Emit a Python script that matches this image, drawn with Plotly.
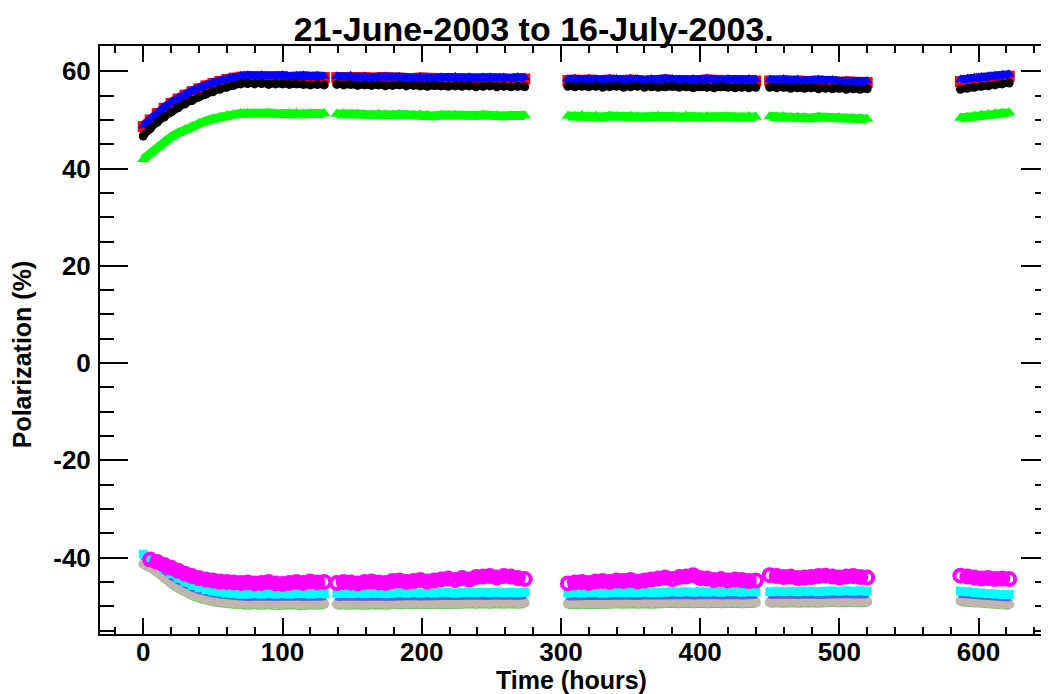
import plotly.graph_objects as go

# ---- time grid per observing segment (hours) ----
T1 = [0, 5, 10, 15, 20, 25, 30, 35, 40, 45,
      50, 55, 60, 65, 70, 75, 80, 85, 90, 95,
      100, 105, 110, 115, 120, 125, 130]
T2 = [139, 144, 149, 154, 159, 164, 169, 174, 179, 184,
      189, 194, 199, 204, 209, 214, 219, 224, 229, 234,
      239, 244, 249, 254, 259, 264, 269, 274]
T3 = [305, 310, 315, 320, 325, 330, 335, 340, 345, 350,
      355, 360, 365, 370, 375, 380, 385, 390, 395, 400,
      405, 410, 415, 420, 425, 430, 435, 440]
T4 = [450, 455, 460, 465, 470, 475, 480, 485, 490, 495,
      500, 505, 510, 515, 520]
T5 = [587, 592, 597, 602, 607, 612, 617, 622]

# ---- upper (positive) polarization series ----
RED = [
    [48.6, 50.0, 51.3, 52.4, 53.4, 54.3, 55.1, 55.8, 56.4, 57.0,
     57.5, 57.9, 58.3, 58.6, 58.8, 58.9, 58.8, 58.9, 58.8, 58.8,
     58.9, 58.7, 58.8, 58.9, 58.7, 58.8, 58.7],
    [58.7, 58.6, 58.7, 58.6, 58.7, 58.5, 58.6, 58.7, 58.5, 58.6,
     58.5, 58.4, 58.6, 58.5, 58.3, 58.5, 58.4, 58.5, 58.4, 58.5,
     58.3, 58.4, 58.5, 58.3, 58.4, 58.3, 58.5, 58.4],
    [58.1, 58.2, 58.0, 58.2, 58.1, 58.0, 58.2, 58.1, 58.0, 58.2,
     58.1, 57.9, 58.1, 58.0, 58.2, 58.1, 58.0, 57.9, 58.1, 58.0,
     58.2, 58.0, 57.9, 58.1, 58.0, 57.9, 58.1, 58.0],
    [58.0, 57.9, 58.1, 57.9, 58.0, 57.8, 57.9, 58.0, 57.8, 57.9,
     57.7, 57.8, 57.7, 57.6, 57.7],
    [57.9, 58.1, 58.3, 58.5, 58.6, 58.8, 58.9, 59.0],
]
BLUE = [
    [48.8, 50.2, 51.5, 52.6, 53.6, 54.5, 55.3, 56.0, 56.6, 57.2,
     57.7, 58.1, 58.5, 58.8, 59.1, 59.2, 59.1, 59.2, 59.0, 59.1,
     59.2, 59.0, 59.1, 59.2, 59.0, 59.1, 59.0],
    [59.0, 58.9, 59.1, 58.9, 59.0, 58.8, 58.9, 59.0, 58.8, 58.9,
     58.8, 58.7, 58.9, 58.8, 58.6, 58.8, 58.7, 58.9, 58.7, 58.8,
     58.6, 58.7, 58.8, 58.6, 58.7, 58.6, 58.8, 58.7],
    [58.4, 58.5, 58.3, 58.5, 58.4, 58.3, 58.5, 58.4, 58.3, 58.5,
     58.4, 58.2, 58.4, 58.3, 58.5, 58.4, 58.3, 58.2, 58.4, 58.3,
     58.5, 58.3, 58.2, 58.4, 58.3, 58.2, 58.4, 58.3],
    [58.3, 58.2, 58.4, 58.2, 58.3, 58.1, 58.2, 58.3, 58.1, 58.2,
     58.0, 58.1, 58.0, 57.9, 58.0],
    [58.3, 58.5, 58.7, 58.9, 59.0, 59.1, 59.3, 59.4],
]
BLACK = [
    [46.7, 48.2, 49.5, 50.6, 51.6, 52.5, 53.3, 54.0, 54.7, 55.3,
     55.8, 56.3, 56.7, 57.1, 57.4, 57.5, 57.4, 57.5, 57.3, 57.4,
     57.4, 57.3, 57.4, 57.3, 57.2, 57.3, 57.2],
    [57.3, 57.2, 57.3, 57.1, 57.2, 57.1, 57.2, 57.0, 57.1, 57.2,
     57.0, 57.1, 57.0, 56.9, 57.1, 57.0, 56.9, 57.0, 56.9, 57.0,
     56.8, 56.9, 57.0, 56.8, 56.9, 56.8, 56.9, 56.8],
    [56.9, 56.8, 56.9, 56.8, 56.9, 56.7, 56.8, 56.9, 56.7, 56.8,
     56.9, 56.7, 56.8, 56.7, 56.8, 56.9, 56.7, 56.8, 56.6, 56.8,
     56.7, 56.6, 56.8, 56.7, 56.6, 56.7, 56.6, 56.7],
    [56.7, 56.6, 56.7, 56.5, 56.6, 56.5, 56.6, 56.4, 56.5, 56.4,
     56.5, 56.3, 56.4, 56.3, 56.4],
    [56.3, 56.5, 56.7, 56.9, 57.0, 57.2, 57.4, 57.6],
]
GREEN_UP = [
    [41.9, 43.2, 44.4, 45.5, 46.5, 47.3, 48.0, 48.7, 49.3, 49.8,
     50.2, 50.6, 50.9, 51.1, 51.3, 51.4, 51.3, 51.2, 51.4, 51.3,
     51.2, 51.3, 51.4, 51.2, 51.3, 51.2, 51.3],
    [51.2, 51.3, 51.1, 51.2, 51.1, 51.0, 51.2, 51.1, 51.0, 51.1,
     51.0, 50.9, 51.1, 51.0, 50.8, 51.0, 50.9, 51.0, 50.9, 50.8,
     50.9, 51.0, 50.8, 50.9, 50.8, 50.9, 50.8, 50.9],
    [50.8, 50.7, 50.9, 50.7, 50.8, 50.6, 50.8, 50.7, 50.6, 50.8,
     50.7, 50.6, 50.7, 50.8, 50.6, 50.7, 50.6, 50.8, 50.7, 50.6,
     50.7, 50.6, 50.5, 50.7, 50.6, 50.5, 50.7, 50.6],
    [50.7, 50.6, 50.7, 50.5, 50.6, 50.5, 50.4, 50.6, 50.5, 50.4,
     50.5, 50.3, 50.4, 50.3, 50.2],
    [50.4, 50.6, 50.8, 51.0, 51.1, 51.3, 51.4, 51.5],
]

# ---- lower (negative) polarization series ----
MAGENTA = [
    [None, -40.4, -40.9, -41.5, -42.1, -42.7, -43.3, -43.8, -44.2, -44.5,
     -44.7, -44.9, -45.0, -45.1, -45.2, -45.1, -45.3, -45.2, -45.0, -45.3,
     -45.4, -45.2, -45.0, -45.2, -44.9, -45.1, -45.0],
    [-45.2, -45.0, -45.1, -45.3, -45.0, -44.9, -45.1, -45.2, -44.8, -44.7,
     -45.0, -44.8, -44.6, -44.9, -44.7, -44.5, -44.3, -44.6, -44.2, -44.5,
     -44.0, -43.9, -43.8, -44.1, -43.8, -43.9, -44.2, -44.4],
    [-45.3, -45.1, -45.0, -45.2, -44.9, -44.8, -45.0, -44.7, -44.8, -44.6,
     -44.9, -44.7, -44.5, -44.3, -44.1, -44.4, -44.0, -43.9, -43.6, -44.2,
     -44.3, -44.6, -44.4, -44.7, -44.5, -44.6, -44.8, -44.7],
    [-43.6, -43.8, -44.0, -43.9, -44.2, -44.1, -44.0, -43.8, -43.7, -43.9,
     -44.1, -43.9, -43.8, -44.0, -44.1],
    [-43.7, -43.9, -44.1, -44.3, -44.2, -44.4, -44.3, -44.4],
]
CYAN = [
    [-39.3, -40.0, -41.0, -42.2, -43.3, -44.2, -45.0, -45.7, -46.2, -46.6,
     -46.9, -47.1, -47.3, -47.4, -47.5, -47.5, -47.4, -47.5, -47.4, -47.5,
     -47.4, -47.5, -47.4, -47.4, -47.5, -47.4, -47.4],
    [-47.4, -47.3, -47.4, -47.3, -47.4, -47.3, -47.3, -47.4, -47.3, -47.2,
     -47.3, -47.2, -47.3, -47.2, -47.3, -47.2, -47.2, -47.3, -47.2, -47.1,
     -47.2, -47.1, -47.2, -47.1, -47.2, -47.1, -47.2, -47.1],
    [-47.3, -47.2, -47.3, -47.2, -47.2, -47.3, -47.2, -47.1, -47.2, -47.1,
     -47.2, -47.1, -47.2, -47.1, -47.1, -47.0, -47.1, -47.0, -47.1, -47.0,
     -47.1, -47.0, -47.1, -47.0, -47.0, -47.1, -47.0, -47.0],
    [-47.0, -46.9, -47.0, -46.9, -47.0, -46.9, -46.9, -47.0, -46.9, -46.8,
     -46.9, -46.8, -46.9, -46.8, -46.9],
    [-46.9, -47.0, -47.2, -47.3, -47.4, -47.5, -47.6, -47.6],
]
SLATE = [
    [-40.2, -40.9, -41.9, -43.1, -44.2, -45.1, -45.9, -46.6, -47.1, -47.5,
     -47.8, -48.0, -48.2, -48.3, -48.4, -48.5, -48.4, -48.5, -48.4, -48.5,
     -48.4, -48.5, -48.4, -48.5, -48.4, -48.5, -48.4],
    [-48.5, -48.4, -48.5, -48.4, -48.5, -48.4, -48.4, -48.5, -48.4, -48.3,
     -48.4, -48.3, -48.4, -48.3, -48.4, -48.3, -48.3, -48.4, -48.3, -48.2,
     -48.3, -48.2, -48.3, -48.2, -48.3, -48.2, -48.3, -48.2],
    [-48.4, -48.3, -48.4, -48.3, -48.3, -48.4, -48.3, -48.2, -48.3, -48.2,
     -48.3, -48.2, -48.3, -48.2, -48.2, -48.1, -48.2, -48.1, -48.2, -48.1,
     -48.2, -48.1, -48.2, -48.1, -48.1, -48.2, -48.1, -48.1],
    [-48.1, -48.0, -48.1, -48.0, -48.1, -48.0, -48.0, -48.1, -48.0, -47.9,
     -48.0, -47.9, -48.0, -47.9, -48.0],
    [-47.9, -48.0, -48.2, -48.3, -48.4, -48.5, -48.6, -48.6],
]
GRAY = [
    [-41.3, -42.0, -43.0, -44.2, -45.3, -46.2, -47.0, -47.7, -48.2, -48.6,
     -48.9, -49.1, -49.3, -49.4, -49.5, -49.6, -49.5, -49.6, -49.5, -49.7,
     -49.6, -49.5, -49.6, -49.7, -49.5, -49.6, -49.5],
    [-49.6, -49.5, -49.6, -49.5, -49.6, -49.5, -49.5, -49.6, -49.5, -49.4,
     -49.5, -49.4, -49.5, -49.4, -49.5, -49.4, -49.4, -49.5, -49.4, -49.3,
     -49.4, -49.3, -49.4, -49.3, -49.4, -49.3, -49.4, -49.3],
    [-49.5, -49.4, -49.5, -49.4, -49.4, -49.5, -49.4, -49.3, -49.4, -49.3,
     -49.4, -49.3, -49.4, -49.3, -49.3, -49.2, -49.3, -49.2, -49.3, -49.2,
     -49.3, -49.2, -49.3, -49.2, -49.2, -49.3, -49.2, -49.2],
    [-49.2, -49.1, -49.2, -49.1, -49.2, -49.1, -49.1, -49.2, -49.1, -49.0,
     -49.1, -49.0, -49.1, -49.0, -49.1],
    [-48.9, -49.0, -49.2, -49.3, -49.4, -49.5, -49.6, -49.6],
]
GREEN_LOW = [
    [-42.1, -42.8, -43.8, -45.0, -46.1, -47.0, -47.8, -48.5, -49.0, -49.4,
     -49.7, -49.9, -50.1, -50.2, -50.3, -50.4, -50.3, -50.4, -50.3, -50.5,
     -50.4, -50.3, -50.4, -50.5, -50.3, -50.4, -50.3],
    [-50.4, -50.3, -50.4, -50.3, -50.4, -50.3, -50.3, -50.4, -50.3, -50.2,
     -50.3, -50.2, -50.3, -50.2, -50.3, -50.2, -50.2, -50.3, -50.2, -50.1,
     -50.2, -50.1, -50.2, -50.1, -50.2, -50.1, -50.2, -50.1],
    [-50.3, -50.2, -50.3, -50.2, -50.2, -50.3, -50.2, -50.1, -50.2, -50.1,
     -50.2, -50.1, -50.2, -50.1, -50.1, -50.0, -50.1, -50.0, -50.1, -50.0,
     -50.1, -50.0, -50.1, -50.0, -50.0, -50.1, -50.0, -50.0],
    [-50.0, -49.9, -50.0, -49.9, -50.0, -49.9, -49.9, -50.0, -49.9, -49.8,
     -49.9, -49.8, -49.9, -49.8, -49.9],
    [-49.7, -49.8, -50.0, -50.1, -50.2, -50.3, -50.4, -50.4],
]

SEGMENTS = [T1, T2, T3, T4, T5]
TITLE = "21-June-2003 to 16-July-2003."
XLABEL = "Time (hours)"
YLABEL = "Polarization (%)"
X_TICKS = [0, 100, 200, 300, 400, 500, 600]
Y_TICKS = [-40, -20, 0, 20, 40, 60]
Y_TICK_TEXT = ["-40", "-20", "0", "20", "40", "60"]


def join(segs):
    out = []
    for i, s in enumerate(segs):
        if i:
            out.append(None)
        out.extend(s)
    return out


X = join(SEGMENTS)

series = [
    # values, color, marker symbol, marker size, band line width
    (GREEN_LOW, "rgb(80,215,80)", None, 0, 3),
    (GRAY, "rgb(192,182,172)", "circle", 10, 8),
    (SLATE, "rgb(95,95,225)", "triangle-up", 5, 4),
    (CYAN, "rgb(0,255,255)", "square", 9, 8),
    (MAGENTA, "rgb(255,0,255)", "circle-open", 12, 10),
    (RED, "rgb(255,0,0)", "square", 11, 11),
    (BLUE, "rgb(0,0,255)", "triangle-up", 10, 8),
    (BLACK, "rgb(0,0,0)", "circle", 9, 7),
    (GREEN_UP, "rgb(0,255,0)", "triangle-up", 11, 9),
]

fig = go.Figure()
for vals, col, sym, size, lw in series:
    Y = join(vals)
    if sym is None:
        fig.add_trace(go.Scatter(x=X, y=Y, mode="lines",
                                 line=dict(color=col, width=lw),
                                 connectgaps=False, showlegend=False,
                                 hoverinfo="skip"))
    else:
        mk = dict(color=col, symbol=sym, size=size, line=dict(width=0))
        if sym.endswith("open"):
            mk["line"] = dict(color=col, width=4)
        fig.add_trace(go.Scatter(x=X, y=Y, mode="lines+markers", marker=mk,
                                 line=dict(color=col, width=lw),
                                 connectgaps=False,
                                 showlegend=False, hoverinfo="skip"))

FONT = "Liberation Sans, Arial, Helvetica, sans-serif"
# the page body adds an 8px margin, so the figure is 8px smaller each way
W, H = 1041, 686
fig.update_layout(
    width=W, height=H,
    margin=dict(l=92, r=0, t=38, b=60, autoexpand=False),
    paper_bgcolor="white", plot_bgcolor="white",
    title=dict(text=TITLE, x=0.505, xanchor="center", y=1 - 21 / H,
               yanchor="middle", yref="container",
               font=dict(family=FONT, size=34, color="black", weight="bold")),
    xaxis=dict(range=[-31.1, 650.6], showgrid=False, zeroline=False,
               automargin=False,
               showline=True, linecolor="black", linewidth=2, mirror="ticks",
               ticks="inside", ticklen=16, tickwidth=2, tickcolor="black",
               tickmode="array", tickvals=X_TICKS,
               minor=dict(ticks="inside", ticklen=7, tickwidth=2,
                          tickcolor="black", dtick=20, tick0=0, showgrid=False),
               tickfont=dict(family=FONT, size=26, color="black", weight="bold"),
               ticklabelstandoff=-6),
    yaxis=dict(range=[-55.7, 65.2], showgrid=False, zeroline=False,
               automargin=False,
               showline=True, linecolor="black", linewidth=2, mirror="ticks",
               ticks="inside", ticklen=28, tickwidth=2, tickcolor="black",
               tickmode="array", tickvals=Y_TICKS, ticktext=Y_TICK_TEXT,
               minor=dict(ticks="inside", ticklen=14, tickwidth=2,
                          tickcolor="black", dtick=5, tick0=0, showgrid=False),
               tickfont=dict(family=FONT, size=26, color="black", weight="bold"),
               ticklabelstandoff=2),
    annotations=[
        dict(text=XLABEL, xref="paper", yref="paper", x=0.4965, y=-0.078,
             xanchor="center", yanchor="middle", showarrow=False,
             font=dict(family=FONT, size=25, color="black", weight="bold")),
        dict(text=YLABEL, xref="paper", yref="paper", x=-0.082, y=0.476,
             xanchor="center", yanchor="middle", showarrow=False, textangle=-90,
             font=dict(family=FONT, size=25, color="black", weight="bold")),
    ],
)

fig.write_html("out.html")
